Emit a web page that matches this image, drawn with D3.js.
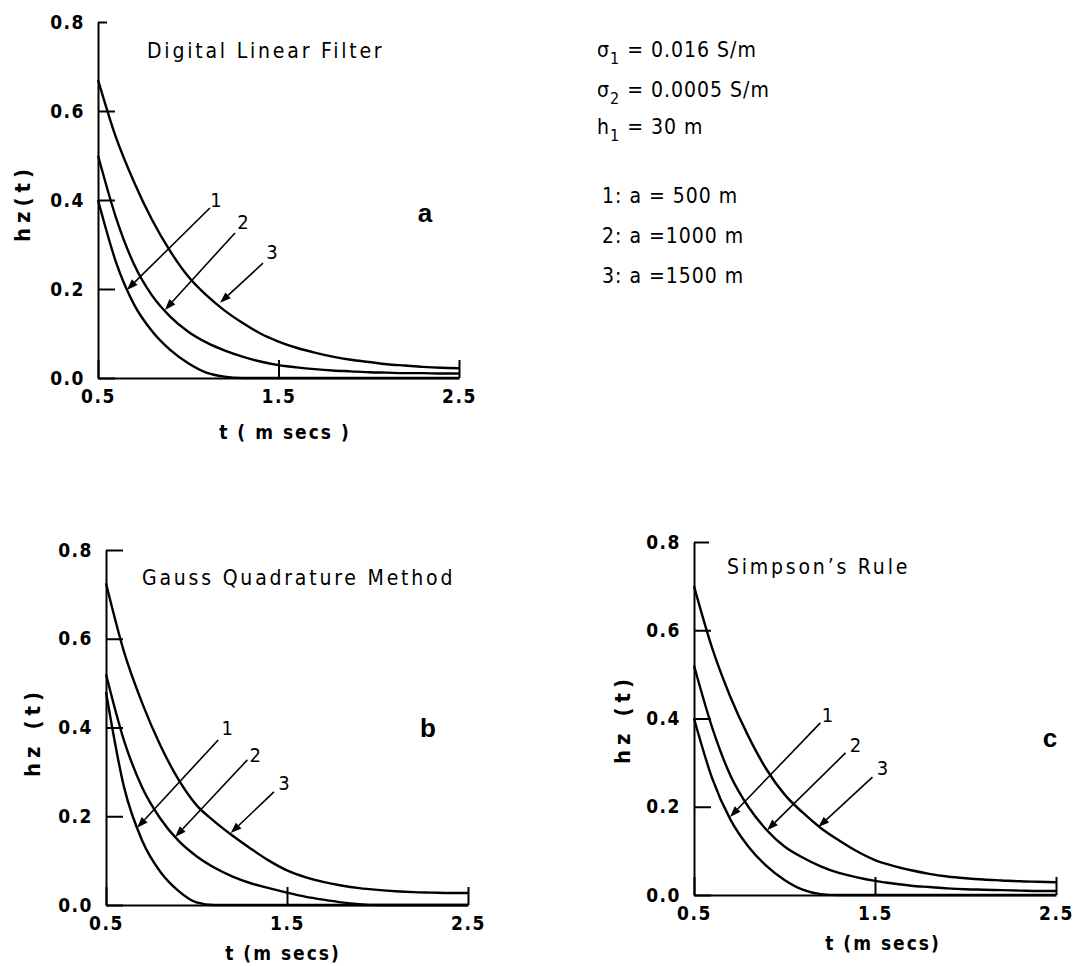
<!DOCTYPE html>
<html>
<head>
<meta charset="utf-8">
<script src="https://cdn.jsdelivr.net/npm/d3@7"></script>
<style>
  body { margin: 0; background: #fff; }
  svg { display: block; }
</style>
</head>
<body>
<div id="chart"></div>
<script>
/* Data */
const tValues = [0.5, 0.6, 0.7, 0.8, 0.9, 1.0, 1.1, 1.2, 1.3, 1.4, 1.5, 1.6, 1.7, 1.8, 1.9, 2.0, 2.1, 2.2, 2.3, 2.4, 2.5]

// (a) Digital Linear Filter
const hzA1 = [0.40, 0.26, 0.165, 0.105, 0.063, 0.033, 0.012, 0.003, 0, 0, 0, 0, 0, 0, 0, 0, 0, 0, 0, 0, 0]
const hzA2 = [0.50, 0.36, 0.255, 0.185, 0.138, 0.104, 0.080, 0.062, 0.048, 0.037, 0.029, 0.024, 0.020, 0.017, 0.015, 0.013, 0.012, 0.011, 0.011, 0.010, 0.010]
const hzA3 = [0.67, 0.54, 0.44, 0.355, 0.285, 0.228, 0.186, 0.152, 0.124, 0.100, 0.082, 0.068, 0.057, 0.048, 0.041, 0.036, 0.031, 0.028, 0.025, 0.023, 0.022]

// (b) Gauss Quadrature Method
const hzB1 = [0.48, 0.265, 0.145, 0.075, 0.032, 0.006, 0, 0, 0, 0, 0, 0, 0, 0, 0, 0, 0, 0, 0, 0, 0]
const hzB2 = [0.52, 0.37, 0.265, 0.195, 0.145, 0.110, 0.084, 0.064, 0.049, 0.038, 0.028, 0.019, 0.012, 0.006, 0.002, 0, 0, 0, 0, 0, 0]
const hzB3 = [0.725, 0.57, 0.455, 0.36, 0.283, 0.225, 0.188, 0.156, 0.127, 0.100, 0.078, 0.063, 0.052, 0.044, 0.038, 0.034, 0.031, 0.029, 0.028, 0.027, 0.027]

// (c) Simpson's Rule
const hzC1 = [0.40, 0.265, 0.172, 0.110, 0.066, 0.034, 0.012, 0.002, 0, 0, 0, 0, 0, 0, 0, 0, 0, 0, 0, 0, 0]
const hzC2 = [0.52, 0.38, 0.272, 0.200, 0.148, 0.110, 0.085, 0.065, 0.050, 0.040, 0.032, 0.026, 0.021, 0.018, 0.015, 0.013, 0.012, 0.011, 0.010, 0.009, 0.009]
const hzC3 = [0.70, 0.56, 0.45, 0.36, 0.285, 0.228, 0.187, 0.152, 0.124, 0.099, 0.079, 0.066, 0.056, 0.048, 0.042, 0.038, 0.035, 0.033, 0.031, 0.030, 0.029]

// arrow annotations: label, tail [t, hz], tip [t, hz], label centre [t, hz]
const arrowsA = [
  { label: "1", tail: [1.12, 0.382], tip: [0.66, 0.198], at: [1.153, 0.40] },
  { label: "2", tail: [1.259, 0.326], tip: [0.871, 0.153], at: [1.303, 0.35] },
  { label: "3", tail: [1.414, 0.258], tip: [1.176, 0.169], at: [1.464, 0.283] }
]
const arrowsB = [
  { label: "1", tail: [1.12, 0.372], tip: [0.672, 0.174], at: [1.17, 0.40] },
  { label: "2", tail: [1.281, 0.327], tip: [0.882, 0.153], at: [1.325, 0.338] },
  { label: "3", tail: [1.428, 0.255], tip: [1.189, 0.162], at: [1.483, 0.275] }
]
const arrowsC = [
  { label: "1", tail: [1.198, 0.39], tip: [0.699, 0.177], at: [1.237, 0.408] },
  { label: "2", tail: [1.337, 0.322], tip: [0.904, 0.147], at: [1.392, 0.34] },
  { label: "3", tail: [1.486, 0.267], tip: [1.187, 0.154], at: [1.541, 0.288] }
]

const xTicks = [0.5, 1.5, 2.5]
const yTicks = [0.0, 0.2, 0.4, 0.6, 0.8]

const legendLines = [
  { main: "σ", sub: "1", rest: " = 0.016 S/m" },
  { main: "σ", sub: "2", rest: " = 0.0005 S/m" },
  { main: "h", sub: "1", rest: " = 30 m" },
  { main: "1: a = 500 m", sub: "", rest: "" },
  { main: "2: a =1000 m", sub: "", rest: "" },
  { main: "3: a =1500 m", sub: "", rest: "" }
]

/* Layout */
const width = 1074
const height = 966
const boldFont = "'DejaVu Sans Condensed', 'DejaVu Sans', sans-serif"
const plainFont = "'DejaVu Sans Condensed', 'DejaVu Sans', sans-serif"

const panels = [
  { title: "Digital Linear Filter", letter: "a", xTitle: "t ( m secs )", yTitle: "hz(t)",
    series: [hzA1, hzA2, hzA3], arrows: arrowsA,
    left: 98, right: 459, top: 22, bottom: 378, cap: 9,
    titlePos: [147, 58], letterPos: [425, 222], xTitlePos: [285, 439], yTitlePos: [22, 203] },
  { title: "Gauss Quadrature Method", letter: "b", xTitle: "t (m secs)", yTitle: "hz (t)",
    series: [hzB1, hzB2, hzB3], arrows: arrowsB,
    left: 106, right: 468, top: 550, bottom: 905, cap: 17,
    titlePos: [142, 585], letterPos: [428, 737], xTitlePos: [283, 960], yTitlePos: [32, 732] },
  { title: "Simpson\u2019s Rule", letter: "c", xTitle: "t (m secs)", yTitle: "hz (t)",
    series: [hzC1, hzC2, hzC3], arrows: arrowsC,
    left: 694, right: 1056, top: 542, bottom: 895, cap: 15,
    titlePos: [727, 574], letterPos: [1050, 747], xTitlePos: [883, 950], yTitlePos: [622, 719] }
]

const svg = d3.select("#chart").append("svg")
    .attr("width", width)
    .attr("height", height)
    .style("background", "#fff")

function drawPanel(p) {
  const xScale = d3.scaleLinear().domain([0.5, 2.5]).range([p.left, p.right])
  const yScale = d3.scaleLinear().domain([0, 0.8]).range([p.bottom, p.top])
  const g = svg.append("g")

  /* Axes */
  const yAxis = g.append("g")
      .attr("transform", `translate(${p.left},0)`)
      .call(d3.axisLeft(yScale)
        .tickValues(yTicks)
        .tickFormat(d3.format(".1f"))
        .tickSizeInner(-17)
        .tickSizeOuter(0)
        .tickPadding(13))
  yAxis.selectAll(".tick line").filter(d => d === 0.8).attr("x2", p.cap)

  const xAxis = g.append("g")
      .attr("transform", `translate(0,${p.bottom})`)
      .call(d3.axisBottom(xScale)
        .tickValues(xTicks)
        .tickFormat(d3.format(".1f"))
        .tickSizeInner(-18)
        .tickSizeOuter(0)
        .tickPadding(12))

  g.selectAll(".domain, .tick line")
      .attr("stroke", "#000")
      .attr("stroke-width", 2)
  g.selectAll(".tick text")
      .attr("fill", "#000")
      .style("font-family", boldFont)
      .style("font-weight", "bold")
      .style("font-size", "19px")
      .style("letter-spacing", "1.5px")

  /* Curves */
  const lineGen = d3.line()
      .x((d, i) => xScale(tValues[i]))
      .y(d => yScale(d))
      .curve(d3.curveMonotoneX)

  g.selectAll("path.curve")
    .data(p.series)
    .enter().append("path")
      .attr("class", "curve")
      .attr("d", lineGen)
      .attr("fill", "none")
      .attr("stroke", "#000")
      .attr("stroke-width", 2.4)

  /* Arrows */
  const headLen = 11
  const headHalf = 4
  p.arrows.forEach(a => {
    const x1 = xScale(a.tail[0]), y1 = yScale(a.tail[1])
    const x2 = xScale(a.tip[0]), y2 = yScale(a.tip[1])
    const ang = Math.atan2(y2 - y1, x2 - x1)
    const bx = x2 - headLen * Math.cos(ang), by = y2 - headLen * Math.sin(ang)
    g.append("line")
        .attr("x1", x1).attr("y1", y1)
        .attr("x2", bx).attr("y2", by)
        .attr("stroke", "#000")
        .attr("stroke-width", 1.6)
    const px = -Math.sin(ang), py = Math.cos(ang)
    g.append("path")
        .attr("d", `M${x2},${y2}L${bx + px * headHalf},${by + py * headHalf}L${bx - px * headHalf},${by - py * headHalf}Z`)
        .attr("fill", "#000")
    g.append("text")
        .attr("x", xScale(a.at[0]))
        .attr("y", yScale(a.at[1]))
        .attr("dy", "0.36em")
        .attr("text-anchor", "middle")
        .style("font-family", plainFont)
        .style("font-size", "20px")
        .text(a.label)
  })

  /* Labels */
  g.append("text")
      .attr("x", p.titlePos[0])
      .attr("y", p.titlePos[1])
      .style("font-family", plainFont)
      .style("font-size", "21px")
      .style("letter-spacing", "2.8px")
      .text(p.title)

  g.append("text")
      .attr("x", p.letterPos[0])
      .attr("y", p.letterPos[1])
      .attr("text-anchor", "middle")
      .style("font-family", "'Liberation Sans', Arial, sans-serif")
      .style("font-weight", "bold")
      .style("font-size", "26px")
      .text(p.letter)

  g.append("text")
      .attr("x", p.xTitlePos[0])
      .attr("y", p.xTitlePos[1])
      .attr("text-anchor", "middle")
      .style("font-family", boldFont)
      .style("font-weight", "bold")
      .style("font-size", "19px")
      .style("letter-spacing", "2px")
      .text(p.xTitle)

  g.append("text")
      .attr("transform", `translate(${p.yTitlePos[0]},${p.yTitlePos[1]}) rotate(-90)`)
      .attr("text-anchor", "middle")
      .attr("dy", "0.36em")
      .style("font-family", boldFont)
      .style("font-weight", "bold")
      .style("font-size", "22px")
      .style("letter-spacing", "5px")
      .text(p.yTitle)
}

panels.forEach(drawPanel)

/* Legend block */
const legendY = [57, 97, 134, 203, 243, 283]
const legend = svg.append("g")
legendLines.forEach((l, i) => {
  const txt = legend.append("text")
      .attr("x", i < 3 ? 597 : 602)
      .attr("y", legendY[i])
      .style("font-family", plainFont)
      .style("font-size", "21px")
      .style("letter-spacing", "1px")
  txt.append("tspan").text(l.main)
  if (l.sub) {
    txt.append("tspan")
        .attr("dy", 7)
        .style("font-size", "16px")
        .text(l.sub)
    txt.append("tspan")
        .attr("dy", -7)
        .text(l.rest)
  }
})
</script>
</body>
</html>
